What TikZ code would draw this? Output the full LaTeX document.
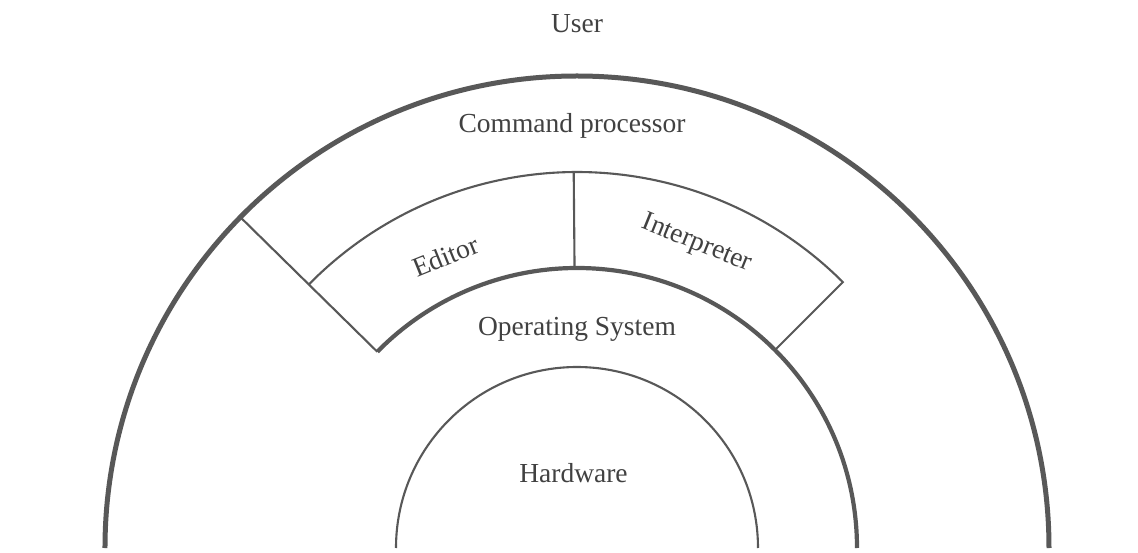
\documentclass[tikz,border=0pt]{standalone}
\usepackage{fontspec}
\setmainfont{Liberation Serif}
\definecolor{linegray}{RGB}{88,88,88}
\definecolor{textgray}{RGB}{65,65,65}
\newcommand{\lblfont}{\fontsize{27.5}{30}\selectfont}
\begin{document}
\begin{tikzpicture}[x=1pt,y=1pt,
  heavy/.style={draw=linegray, line width=5pt},
  osline/.style={draw=linegray, line width=4.2pt},
  thin/.style={draw=linegray, line width=2.1pt, line join=miter},
  lbl/.style={font=\lblfont, text=textgray, inner sep=0pt, anchor=base},
  arclbl/.style={font=\lblfont, text=textgray, inner sep=0pt, anchor=center}]
\useasboundingbox (-577,-4) rectangle (561,548);
\fill[white] (-577,-4) rectangle (561,548);
\coordinate (o) at (0,0);

% layers, from the outside in
\draw[heavy] (o) ++(0:472) arc[start angle=0, end angle=180, radius=472];
\draw[osline] (o) ++(0:280) arc[start angle=0, end angle=135.5, radius=280];
\draw[thin] (o) ++(0:181) arc[start angle=0, end angle=180, radius=181];

% command processor partition and the editor / interpreter band
\coordinate (osl) at (135.5:280);
\coordinate (cpl) at (135.5:472);
\coordinate (edl) at (135.5:376);
\coordinate (inb) at (45:280);
\coordinate (divt) at (90.5:376);
\coordinate (divb) at (90.5:280);
\draw[thin] (osl) -- (cpl);
\draw[thin] (edl) arc[start angle=135.5, end angle=45, radius=376] -- (inb);
\draw[thin] (divb) -- (divt);

% labels
\node[lbl] (user) at (0,515) {User};
\node[lbl] (cmd) at (-5,415) {Command processor};
\node[lbl] (os) at (0,212) {Operating System};
\node[lbl] (hw) at (-3.5,66) {Hardware};
\node[arclbl, rotate=22] (editor) at (-131.5,292) {Editor};
\node[arclbl, rotate=-22] (interp) at (119.7,304) {Interpreter};
\end{tikzpicture}
\end{document}
